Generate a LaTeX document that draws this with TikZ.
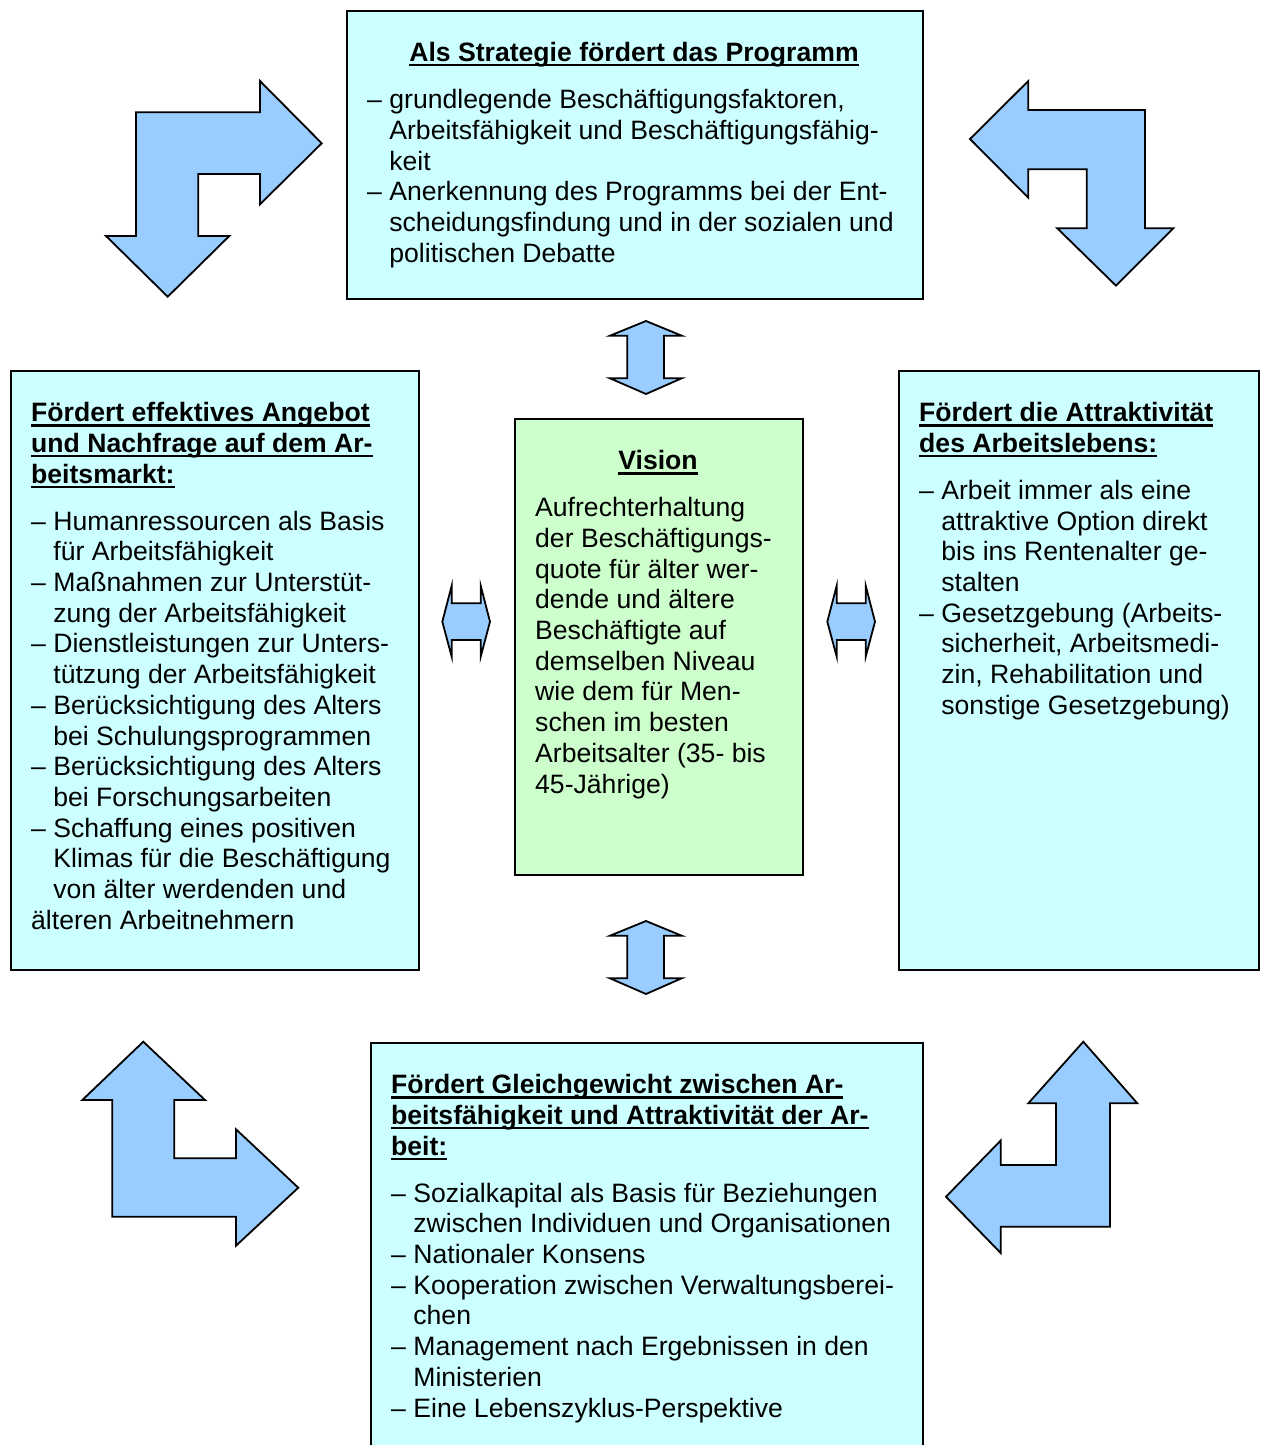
\documentclass[tikz,border=0pt]{standalone}
\usepackage{fontspec}
\setmainfont{Liberation Sans}
\definecolor{boxcyan}{HTML}{CCFFFF}
\definecolor{boxgreen}{HTML}{CCFFCC}
\definecolor{arrowblue}{HTML}{99CCFF}
\newcommand\myul[1]{\setbox0=\hbox{#1}\rlap{\rule[-5pt]{\wd0}{2.6pt}}\box0}
\newcommand\strt{\rule{0pt}{25pt}}
\newcommand\ci{\hphantom{–\ }}
\begin{document}
\begin{tikzpicture}[x=1pt,y=-1pt,
  box/.style={draw=black, line width=1.6pt, fill=boxcyan, anchor=north west, inner sep=0pt},
  arr/.style={draw=black, line width=1.8pt, fill=arrowblue, line join=miter},
  txt/.style={font=\fontsize{26.6}{30.7}\selectfont, align=left, inner sep=0pt, anchor=north west},
  ttl/.style={font=\fontsize{26.6}{30.7}\selectfont\bfseries, inner sep=0pt, anchor=base}]
\useasboundingbox (0,0) rectangle (1261,1445);
\clip (0,0) rectangle (1261,1445);

% boxes
\node[box, minimum width=576pt, minimum height=288pt] (topbox) at (346,10) {};
\node[box, minimum width=408pt, minimum height=599pt] (leftbox) at (10,370) {};
\node[box, fill=boxgreen, minimum width=288pt, minimum height=456pt] (centerbox) at (514,418) {};
\node[box, minimum width=360pt, minimum height=599pt] (rightbox) at (898,370) {};
\node[box, minimum width=552pt, minimum height=430pt] (bottombox) at (370,1042) {};

% top box text
\node[ttl] (toptitle) at (634,61.5) {\myul{Als Strategie fördert das Programm}};
\node[txt] (toptext) at (367,83.5) {\strt– grundlegende Beschäftigungsfaktoren,\\
\ci Arbeitsfähigkeit und Beschäftigungsfähig-\\
\ci keit\\
– Anerkennung des Programms bei der Ent-\\
\ci scheidungsfindung und in der sozialen und\\
\ci politischen Debatte};

% left box text
\node[txt] (lefttext) at (31,396.5) {\strt\textbf{\myul{Fördert effektives Angebot}}\\
\textbf{\myul{und Nachfrage auf dem Ar-}}\\
\textbf{\myul{beitsmarkt:}}\\[16.3pt]
– Humanressourcen als Basis\\
\ci für Arbeitsfähigkeit\\
– Maßnahmen zur Unterstüt-\\
\ci zung der Arbeitsfähigkeit\\
– Dienstleistungen zur Unters-\\
\ci tützung der Arbeitsfähigkeit\\
– Berücksichtigung des Alters\\
\ci bei Schulungsprogrammen\\
– Berücksichtigung des Alters\\
\ci bei Forschungsarbeiten\\
– Schaffung eines positiven\\
\ci Klimas für die Beschäftigung\\
\ci von älter werdenden und\\
älteren Arbeitnehmern};

% center box text
\node[ttl] (visiontitle) at (658,469.5) {\myul{Vision}};
\node[txt] (visiontext) at (535,491.5) {\strt Aufrechterhaltung\\
der Beschäftigungs-\\
quote für älter wer-\\
dende und ältere\\
Beschäftigte auf\\
demselben Niveau\\
wie dem für Men-\\
schen im besten\\
Arbeitsalter (35- bis\\
45-Jährige)};

% right box text
\node[txt] (righttext) at (919,396.5) {\strt\textbf{\myul{Fördert die Attraktivität}}\\
\textbf{\myul{des Arbeitslebens:}}\\[16.3pt]
– Arbeit immer als eine\\
\ci attraktive Option direkt\\
\ci bis ins Rentenalter ge-\\
\ci stalten\\
– Gesetzgebung (Arbeits-\\
\ci sicherheit, Arbeitsmedi-\\
\ci zin, Rehabilitation und\\
\ci sonstige Gesetzgebung)};

% bottom box text
\node[txt] (bottomtext) at (391,1068.5) {\strt\textbf{\myul{Fördert Gleichgewicht zwischen Ar-}}\\
\textbf{\myul{beitsfähigkeit und Attraktivität der Ar-}}\\
\textbf{\myul{beit:}}\\[16.3pt]
– Sozialkapital als Basis für Beziehungen\\
\ci zwischen Individuen und Organisationen\\
– Nationaler Konsens\\
– Kooperation zwischen Verwaltungsberei-\\
\ci chen\\
– Management nach Ergebnissen in den\\
\ci Ministerien\\
– Eine Lebenszyklus-Perspektive};

% corner bent arrows
\path[arr] (321.7,143.3) -- (260,81) -- (260,112.3) -- (136,112.3) -- (136,236) -- (106,236) -- (167.7,296.7) -- (229.3,236) -- (198.3,236) -- (198.3,174) -- (260,174) -- (260,204.3) -- cycle;
\path[arr] (970,139) -- (1028.3,81) -- (1028.3,110) -- (1145,110) -- (1145,228.3) -- (1173.3,228.3) -- (1116,285.7) -- (1057.3,228.3) -- (1086.7,228.3) -- (1086.7,169.3) -- (1028.3,169.3) -- (1028.3,197.7) -- cycle;
\path[arr] (143.3,1041.7) -- (205,1100) -- (174.3,1100) -- (174.3,1158.3) -- (236,1158.3) -- (236,1129.3) -- (298.3,1187.7) -- (236,1245.7) -- (236,1216.7) -- (112.3,1216.7) -- (112.3,1100) -- (82.3,1100) -- cycle;
\path[arr] (1083.3,1041.7) -- (1137.3,1103.3) -- (1110,1103.3) -- (1110,1226.7) -- (1000.7,1226.7) -- (1000.7,1253) -- (946,1196.7) -- (1000.7,1140.5) -- (1000.7,1165) -- (1056,1165) -- (1056,1103.3) -- (1028.3,1103.3) -- cycle;

% vertical double arrows
\path[arr] (646,321) -- (681.7,335.7) -- (664,335.7) -- (664,378.3) -- (681.7,378.3) -- (646,394) -- (610,378.3) -- (627.3,378.3) -- (627.3,335.7) -- (610,335.7) -- cycle;
\path[arr] (646,921) -- (681.7,935.7) -- (664,935.7) -- (664,978.3) -- (681.7,978.3) -- (646,994) -- (610,978.3) -- (627.3,978.3) -- (627.3,935.7) -- (610,935.7) -- cycle;

% horizontal double arrows
\path[arr] (451.7,585.7) -- (451.7,603.3) -- (480.7,603.3) -- (480.7,585.7) -- (490,621.7) -- (480.7,656.7) -- (480.7,640) -- (451.7,640) -- (451.7,656.7) -- (442.3,621.7) -- cycle;
\path[arr] (836.7,585.7) -- (836.7,603.3) -- (865.7,603.3) -- (865.7,585.7) -- (875,621.7) -- (865.7,656.7) -- (865.7,640) -- (836.7,640) -- (836.7,656.7) -- (827.3,621.7) -- cycle;
\end{tikzpicture}
\end{document}
